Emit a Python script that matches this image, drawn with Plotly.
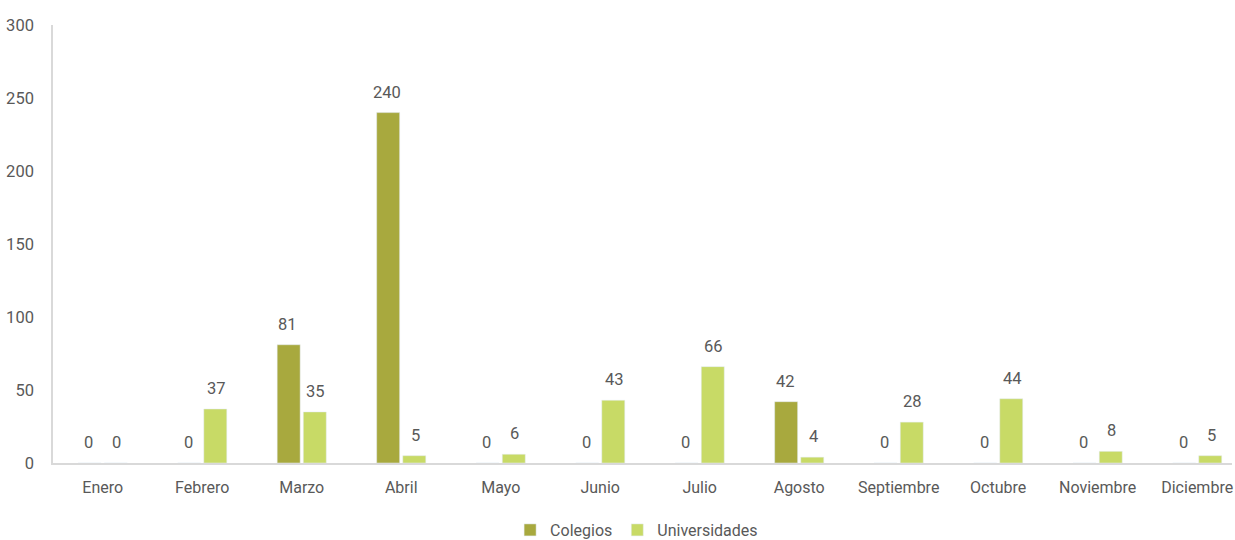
import plotly.graph_objects as go

meses = ["Enero", "Febrero", "Marzo", "Abril", "Mayo", "Junio", "Julio",
         "Agosto", "Septiembre", "Octubre", "Noviembre", "Diciembre"]
colegios = [0, 0, 81, 240, 0, 0, 0, 42, 0, 0, 0, 0]
universidades = [0, 37, 35, 5, 6, 43, 66, 4, 28, 44, 8, 5]

FONT = "Liberation Sans Narrow, Arial Narrow, Roboto, Liberation Sans, Arial, sans-serif"
GRAY = "#595959"
C_COL = "#A8A93E"
C_UNI = "#C8DA66"

fig = go.Figure()
fig.add_trace(go.Bar(name="Colegios", x=meses, y=colegios, marker_color=C_COL))
fig.add_trace(go.Bar(name="Universidades", x=meses, y=universidades, marker_color=C_UNI))

# data labels (offset to sit above each grouped bar)
BAR_SHIFT = 14
for vals, shift in ((colegios, -BAR_SHIFT), (universidades, BAR_SHIFT)):
    for m, v in zip(meses, vals):
        fig.add_annotation(x=m, y=v, xref="x", yref="y", text=str(v), showarrow=False,
                           xshift=shift, yshift=9, yanchor="bottom",
                           font=dict(size=16.5, color=GRAY, family=FONT))

fig.update_layout(
    width=1235, height=540,
    margin=dict(l=53, r=3, t=25, b=77, autoexpand=False),
    paper_bgcolor="white", plot_bgcolor="white",
    barmode="group", bargap=0.475, bargroupgap=0.12,
    font=dict(family=FONT, color=GRAY, size=16),
    legend=dict(orientation="h", x=0.495, xanchor="center", y=-0.153, yanchor="middle",
                font=dict(size=16, color=GRAY, family=FONT), itemwidth=30,
                traceorder="normal"),
    showlegend=True,
)
fig.update_xaxes(range=[-0.5, 11.35], showline=True, linecolor="#D9D9D9", linewidth=1.5,
                 ticks="", ticklabelstandoff=9,
                 tickfont=dict(size=16, color=GRAY, family=FONT), showgrid=False,
                 automargin=False)
fig.update_yaxes(range=[0, 300], dtick=50, showline=True, linecolor="#D9D9D9", linewidth=1.5,
                 showgrid=False, zeroline=False, ticks="", ticklabelstandoff=14,
                 tickfont=dict(size=16.5, color=GRAY, family=FONT), automargin=False)

fig.write_html("out.html", config={"displayModeBar": False},
               post_script="document.body.style.margin='0';document.body.style.overflow='hidden';")
